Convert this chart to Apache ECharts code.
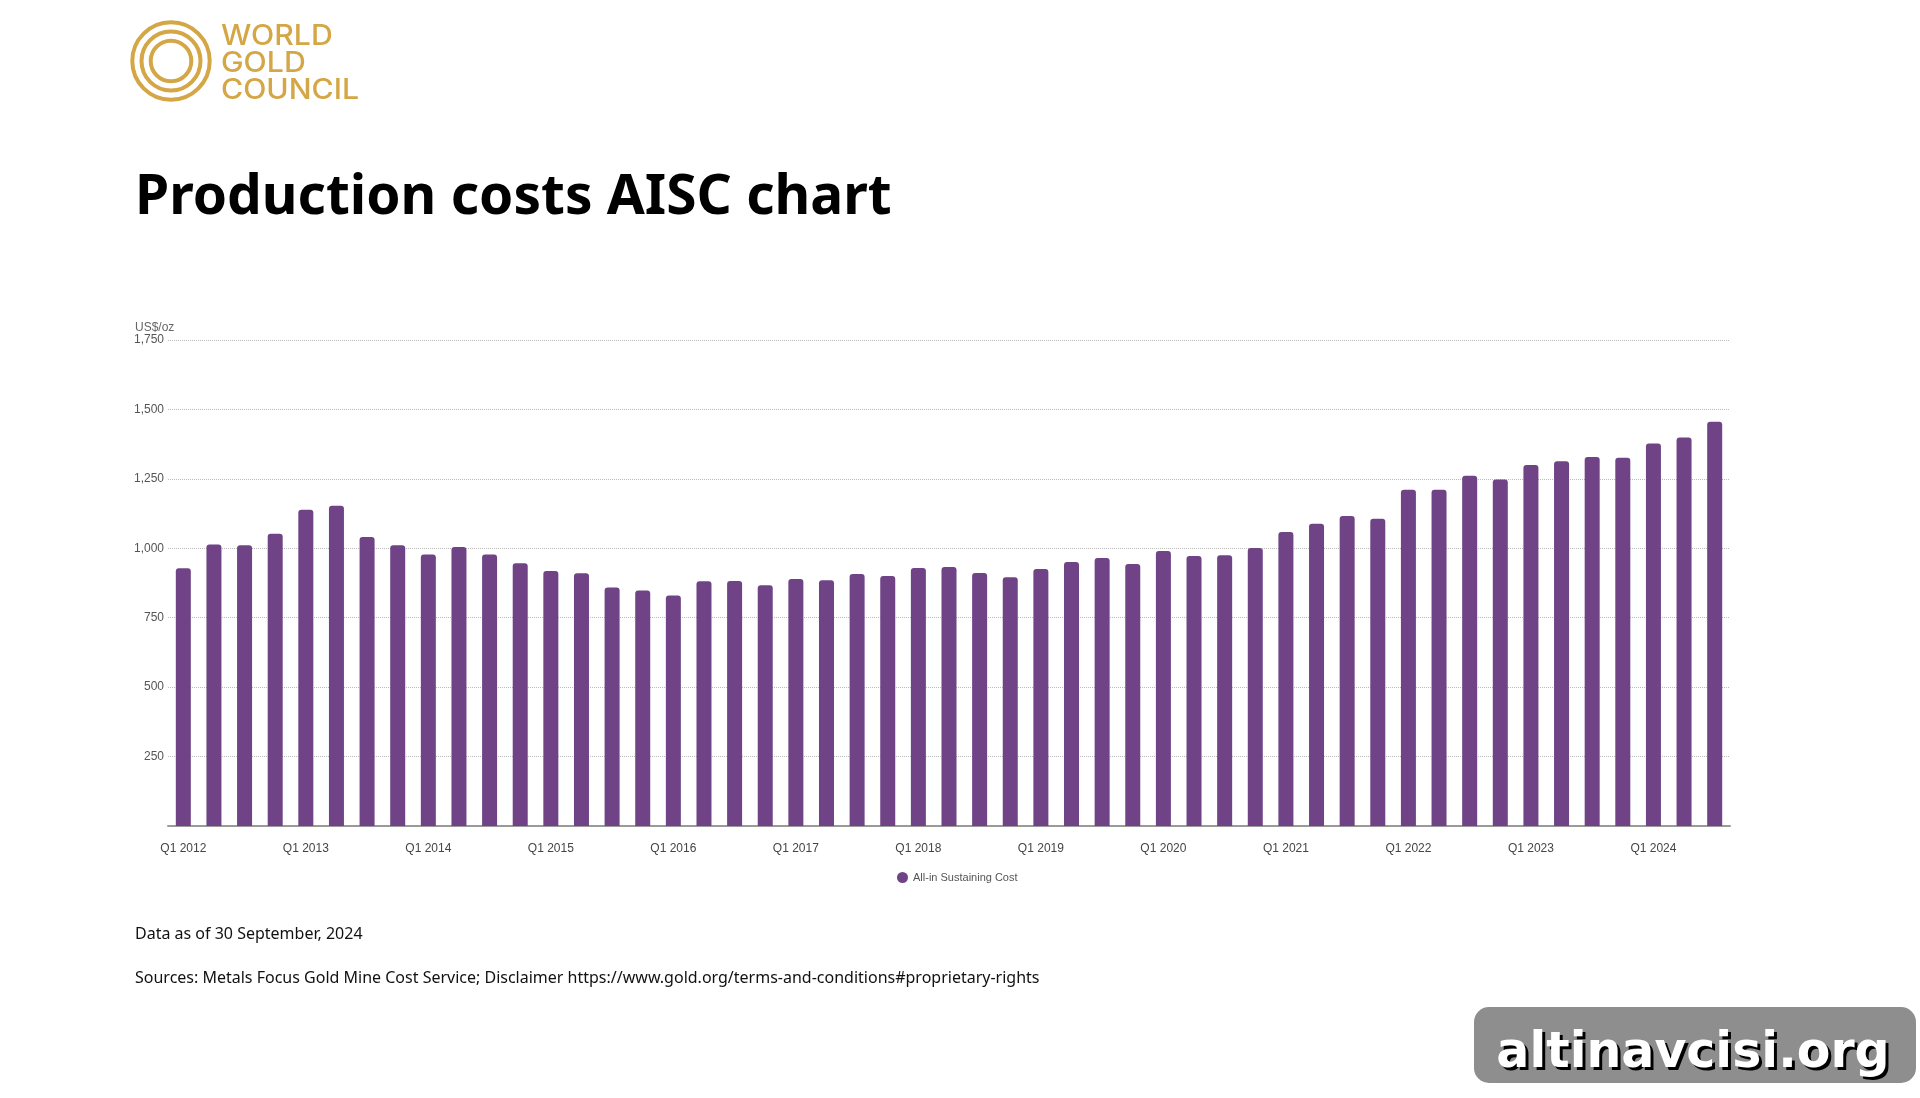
<!DOCTYPE html>
<html>
<head>
<meta charset="utf-8">
<title>Production costs AISC chart</title>
<script src="https://cdn.jsdelivr.net/npm/echarts@6/dist/echarts.min.js"></script>
<style>
  html, body { margin: 0; padding: 0; background: #fff; }
  #chart { width: 1920px; height: 1098px; }
</style>
</head>
<body>
<div id="chart"></div>
<script>
// quarters Q1 2012 - Q3 2024
var quarters = [
  'Q1 2012','Q2 2012','Q3 2012','Q4 2012',
  'Q1 2013','Q2 2013','Q3 2013','Q4 2013',
  'Q1 2014','Q2 2014','Q3 2014','Q4 2014',
  'Q1 2015','Q2 2015','Q3 2015','Q4 2015',
  'Q1 2016','Q2 2016','Q3 2016','Q4 2016',
  'Q1 2017','Q2 2017','Q3 2017','Q4 2017',
  'Q1 2018','Q2 2018','Q3 2018','Q4 2018',
  'Q1 2019','Q2 2019','Q3 2019','Q4 2019',
  'Q1 2020','Q2 2020','Q3 2020','Q4 2020',
  'Q1 2021','Q2 2021','Q3 2021','Q4 2021',
  'Q1 2022','Q2 2022','Q3 2022','Q4 2022',
  'Q1 2023','Q2 2023','Q3 2023','Q4 2023',
  'Q1 2024','Q2 2024','Q3 2024'
];
// All-in Sustaining Cost, US$/oz
var aisc = [
  928, 1014, 1011, 1052,
  1139, 1153, 1041, 1011,
  978, 1005, 978, 946,
  918, 910, 859, 848,
  830, 881, 882, 867,
  889, 885, 907, 900,
  929, 933, 911, 896,
  925, 951, 965, 943,
  990, 972, 975, 1001,
  1059, 1088, 1116, 1106,
  1211, 1211, 1261, 1248,
  1300, 1313, 1329, 1326,
  1377, 1399, 1456
];
var yTicks = [0, 250, 500, 750, 1000, 1250, 1500, 1750];

var gold = '#d4a646';
var purple = '#6f4386';
var axisFont = '"Liberation Sans", Arial, sans-serif';
var logoFont = '500 28px Inter';

var myChart = echarts.init(document.getElementById('chart'));
var option = {
  backgroundColor: '#fff',
  animation: false,
  grid: { left: 168, right: 190, top: 340, bottom: 272, containLabel: false },
  legend: {
    data: ['All-in Sustaining Cost'],
    left: 892, top: 867,
    icon: 'circle', itemWidth: 11, itemHeight: 11, itemGap: 10,
    textStyle: { fontFamily: axisFont, fontSize: 11, color: '#555' }
  },
  xAxis: {
    type: 'category',
    data: quarters,
    axisTick: { show: false },
    axisLine: { lineStyle: { color: '#9a9a9a', width: 2 } },
    axisLabel: { interval: 3, margin: 17, fontFamily: axisFont, fontSize: 12, color: '#444' }
  },
  yAxis: {
    type: 'value',
    min: yTicks[0], max: yTicks[yTicks.length - 1], interval: 250,
    axisLine: { show: false },
    axisTick: { show: false },
    splitLine: { lineStyle: { type: 'dotted', color: '#bbb', width: 1 } },
    axisLabel: {
      margin: 4, fontFamily: axisFont, fontSize: 12, color: '#555',
      formatter: function (v) { return v === 0 ? '' : v.toLocaleString('en-US'); }
    }
  },
  series: [{
    name: 'All-in Sustaining Cost',
    type: 'bar',
    data: aisc,
    barWidth: 15,
    itemStyle: { color: purple, borderRadius: [3, 3, 0, 0] }
  }],
  graphic: [
    // logo
    { type: 'circle', shape: { cx: 171, cy: 61, r: 38.7 }, style: { fill: 'none', stroke: gold, lineWidth: 4 } },
    { type: 'circle', shape: { cx: 171, cy: 61, r: 29.5 }, style: { fill: 'none', stroke: gold, lineWidth: 4 } },
    { type: 'circle', shape: { cx: 171, cy: 61, r: 20.3 }, style: { fill: 'none', stroke: gold, lineWidth: 4 } },
    { type: 'text', x: 221, y: 37, scaleX: 1.08, style: { text: 'WORLD', font: logoFont, fill: gold, textVerticalAlign: 'middle' } },
    { type: 'text', x: 221, y: 64, scaleX: 1.08, style: { text: 'GOLD', font: logoFont, fill: gold, textVerticalAlign: 'middle' } },
    { type: 'text', x: 221, y: 91, scaleX: 1.08, style: { text: 'COUNCIL', font: logoFont, fill: gold, textVerticalAlign: 'middle' } },
    // title
    { type: 'text', x: 135, y: 198, style: { text: 'Production costs AISC chart', font: 'bold 55px "Noto Sans"', fill: '#000', textVerticalAlign: 'middle' } },
    // unit
    { type: 'text', x: 135, y: 328, style: { text: 'US$/oz', font: '12px ' + axisFont, fill: '#666', textVerticalAlign: 'middle' } },
    // footer
    { type: 'text', x: 135, y: 934, style: { text: 'Data as of 30 September, 2024', font: '16px "Noto Sans"', fill: '#111', textVerticalAlign: 'middle' } },
    { type: 'text', x: 135, y: 978, style: { text: 'Sources: Metals Focus Gold Mine Cost Service; Disclaimer https://www.gold.org/terms-and-conditions#proprietary-rights', font: '16px "Noto Sans"', fill: '#111', textVerticalAlign: 'middle' } },
    // watermark
    { type: 'rect', shape: { x: 1474, y: 1007, width: 442, height: 76, r: 15 }, style: { fill: '#8e8e8e' } },
    { type: 'text', x: 1696, y: 1057, style: {
        text: 'altinavcisi.org', font: 'bold 49px "DejaVu Sans"', fill: '#000',
        textAlign: 'center', textVerticalAlign: 'middle'
    } },
    { type: 'text', x: 1693, y: 1054, style: {
        text: 'altinavcisi.org', font: 'bold 49px "DejaVu Sans"', fill: '#fff',
        textAlign: 'center', textVerticalAlign: 'middle'
    } }
  ]
};
myChart.setOption(option);
</script>
</body>
</html>
